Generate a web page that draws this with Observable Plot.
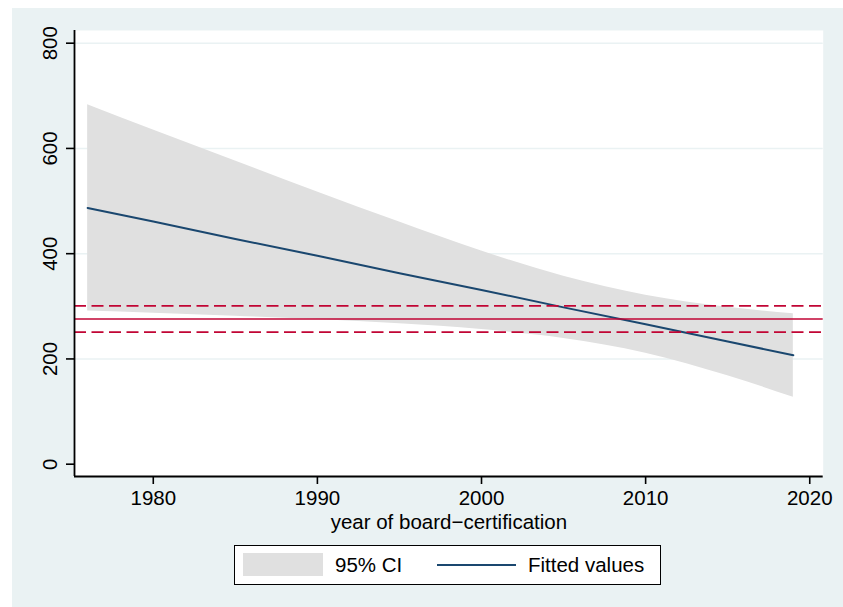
<!DOCTYPE html>
<html>
<head>
<meta charset="utf-8">
<script src="https://cdn.jsdelivr.net/npm/d3@7"></script>
<script src="https://cdn.jsdelivr.net/npm/@observablehq/plot@0.6"></script>
<style>
  html, body { margin: 0; padding: 0; background: #ffffff; }
  #wrap { position: relative; width: 843px; height: 607px; overflow: hidden; font-family: "Liberation Sans", Arial, sans-serif; }
  #bg { position: absolute; left: 12px; top: 8px; width: 831px; height: 599px; background: #EAF2F3; }
  #chart { position: absolute; left: 0; top: 0; }
  #legend { position: absolute; left: 234px; top: 545px; width: 427px; height: 40px; background: #fff; border: 1px solid #000; box-sizing: border-box; font-size: 20.5px; color: #000; }
  #legend .sw { position: absolute; left: 8px; top: 7px; width: 80px; height: 23px; background: #E0E0E0; }
  #legend .t1 { position: absolute; left: 100px; top: 7px; line-height: 24px; }
  #legend .ln { position: absolute; left: 202px; top: 18px; width: 79px; height: 0; border-top: 2px solid #1A476F; }
  #legend .t2 { position: absolute; left: 293px; top: 7px; line-height: 24px; }
</style>
</head>
<body>
<div id="wrap">
  <div id="bg"></div>
  <div id="chart"></div>
  <div id="legend">
    <div class="sw"></div><div class="t1">95% CI</div>
    <div class="ln"></div><div class="t2">Fitted values</div>
  </div>
</div>
<script>
// ---- data ----
const years    = [1976, 1980, 1985, 1990, 1995, 2000, 2005, 2010, 2015, 2019];
const fitted   = [487, 461, 428, 396, 363, 331, 298, 266, 233, 207];
const ciLower  = [291, 287, 281, 275, 267, 256, 239, 211, 168, 127];
const ciUpper  = [683, 635, 576, 517, 460, 405, 357, 321, 298, 286];
const refMean  = [276];
const refBounds = [251, 301];
const xTicks = [1980, 1990, 2000, 2010, 2020];
const yTicks = [0, 200, 400, 600, 800];
const gridTicks = [200, 400, 600, 800];
const xDomain = [1975.2, 2020.82];
const yDomain = [-23.4, 824.1];
const xTitle = "year of board\u2212certification";

const rows = years.map((y, i) => ({year: y, fit: fitted[i], lo: ciLower[i], hi: ciUpper[i]}));

const font = "Liberation Sans, Arial, sans-serif";

const chart = Plot.plot({
  width: 843,
  height: 607,
  marginLeft: 74,
  marginRight: 20.3,
  marginTop: 30,
  marginBottom: 131,
  style: {background: "transparent", fontFamily: font, fontSize: "20.5px", color: "#000"},
  x: {domain: xDomain},
  y: {domain: yDomain},
  marks: [
    Plot.frame({fill: "white", stroke: null}),
    Plot.gridY(gridTicks, {stroke: "#EAF2F3", strokeOpacity: 1, strokeWidth: 1.4}),
    Plot.areaY(rows, {x: "year", y1: "lo", y2: "hi", fill: "#E0E0E0", curve: "monotone-x"}),
    Plot.line(rows, {x: "year", y: "fit", stroke: "#1A476F", strokeWidth: 2}),
    Plot.ruleY(refMean, {stroke: "#C10534", strokeWidth: 1.5}),
    Plot.ruleY(refBounds, {stroke: "#C10534", strokeWidth: 1.8, strokeDasharray: "12,5.5"}),
    Plot.axisX(xTicks, {tickSize: 8, tickPadding: 6, tickFormat: "d", fontSize: 20.5, label: null, stroke: "#000", strokeWidth: 1.6}),
    Plot.axisY(yTicks, {tickSize: 8, tickPadding: 10, tickFormat: "d", tickRotate: -90, fontSize: 20.5, label: null, stroke: "#000", strokeWidth: 1.6}),
    Plot.ruleX([xDomain[0]], {stroke: "#000", strokeWidth: 1.8}),
    Plot.ruleY([yDomain[0]], {stroke: "#000", strokeWidth: 1.8}),
    Plot.text([xTitle], {frameAnchor: "bottom", dy: 52, fontSize: 20.5, fill: "#000"})
  ]
});
document.getElementById("chart").appendChild(chart);
</script>
</body>
</html>
